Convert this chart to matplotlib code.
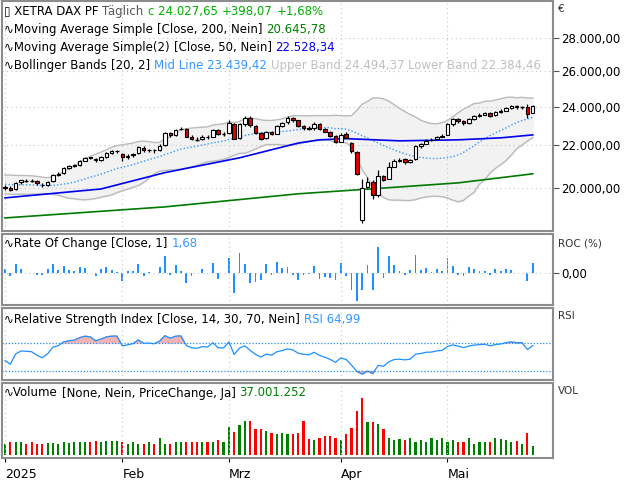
import numpy as np
import pandas as pd
import matplotlib
matplotlib.use("Agg")
import matplotlib.pyplot as plt
from matplotlib.ticker import FixedLocator, NullLocator

# ---------------- data ----------------
dates = pd.bdate_range("2025-01-02", "2025-05-26")
dates = dates[~dates.isin(pd.to_datetime(["2025-04-18", "2025-04-21", "2025-05-01"]))]

closes = [20025, 19906, 20216, 20340, 20330, 20317, 20215, 20133, 20271, 20575, 20655, 20903,
          20990, 21042, 21254, 21411, 21394, 21282, 21430, 21637, 21727, 21732,
          21428, 21505, 21585, 21902, 21787, 21800, 21777, 21982, 22612, 22514, 22798, 22845,
          22434, 22314, 22287, 22426, 22410, 22794, 22550, 22551,
          23147, 22327, 23081, 23419, 23009, 22620, 22329, 22676, 22567, 22987, 23154, 23380,
          23288, 22999, 22892, 22852, 23109, 22839, 22679, 22461, 22163,
          22540, 22390, 21717, 20642, 20000, 20280, 19670, 20563, 20374, 20955, 21254, 21311,
          21206, 21294, 21962, 22065, 22242, 22272, 22426, 22497,
          23087, 23345, 23250, 23116, 23353, 23499, 23567, 23638, 23527, 23695, 23767, 23935,
          24036, 23999, 23999, 23630, 24028]
opens = [20000, 20010, 19950, 20250, 20320, 20330, 20300, 20150, 20130, 20300, 20600, 20680,
         20920, 21000, 21060, 21270, 21420, 21360, 21300, 21450, 21650, 21750,
         21600, 21420, 21520, 21620, 21900, 21780, 21800, 21800, 22020, 22600, 22530, 22810,
         22850, 22420, 22300, 22300, 22430, 22420, 22800, 22540,
         22600, 23100, 22350, 23100, 23400, 23000, 22600, 22350, 22690, 22580, 23000, 23170,
         23390, 23280, 23000, 22900, 22860, 23100, 22850, 22690, 22460,
         22180, 22550, 22100, 21700, 18600, 20050, 20250, 19700, 20550, 20400, 20970, 21260,
         21320, 21200, 21320, 21980, 22080, 22250, 22300, 22430,
         22520, 23090, 23330, 23250, 23130, 23360, 23510, 23580, 23640, 23540, 23700, 23770,
         23940, 24040, 23990, 24000, 23640]
highs = [20120, 20100, 20280, 20380, 20400, 20400, 20350, 20220, 20320, 20620, 20720, 20950,
         21050, 21100, 21300, 21450, 21450, 21400, 21470, 21680, 21780, 21800,
         21650, 21560, 21650, 21950, 21950, 21850, 21850, 22050, 22650, 22650, 22850, 22930,
         22900, 22500, 22400, 22500, 22500, 22850, 22850, 22650,
         23300, 23150, 23150, 23480, 23480, 23050, 22650, 22750, 22750, 23050, 23200, 23480,
         23450, 23300, 23050, 23000, 23200, 23150, 22900, 22750, 22500,
         22600, 22650, 22150, 21750, 20400, 20500, 20350, 20800, 20600, 21200, 21350, 21400,
         21400, 21350, 22000, 22120, 22300, 22350, 22450, 22560,
         23150, 23400, 23400, 23300, 23400, 23550, 23650, 23700, 23700, 23750, 23850, 24000,
         24100, 24100, 24050, 24150, 24080]
lows = [19900, 19880, 19920, 20200, 20250, 20250, 20150, 20050, 20080, 20280, 20550, 20650,
        20880, 20950, 21000, 21230, 21330, 21200, 21250, 21400, 21600, 21650,
        21250, 21350, 21450, 21580, 21700, 21700, 21650, 21750, 21980, 22400, 22480, 22780,
        22400, 22250, 22200, 22250, 22300, 22400, 22500, 22450,
        22580, 22300, 22300, 23000, 22950, 22550, 22250, 22300, 22500, 22550, 22950, 23100,
        23200, 22950, 22800, 22780, 22800, 22800, 22650, 22400, 22100,
        22150, 22350, 21650, 20600, 18490, 20000, 19500, 19600, 20300, 20700, 21100, 21200,
        21100, 21150, 21300, 21900, 22050, 22200, 22300, 22400,
        22500, 23000, 23150, 23050, 23100, 23300, 23450, 23550, 23450, 23500, 23650, 23750,
        23900, 23900, 23900, 23400, 23900]
volumes = [48, 56, 56, 53, 48, 56, 45, 48, 51, 51, 48, 56, 51, 53, 53, 56, 56, 58, 56, 58, 58, 60,
           56, 48, 56, 48, 45, 56, 45, 70, 48, 45, 53, 56, 53, 53, 56, 53, 53, 56, 64, 56,
           115, 96, 125, 140, 144, 108, 108, 99, 90, 88, 93, 88, 88, 93, 144, 68, 64, 72, 80, 80, 72,
           62, 88, 112, 184, 237, 136, 136, 128, 108, 72, 64, 68, 64, 72, 56, 64, 56, 72, 64, 72,
           53, 64, 56, 56, 72, 45, 56, 56, 56, 70, 68, 62, 56, 60, 45, 90, 37]
# closes of the 19 trading days before 2 Jan (for Bollinger warm-up)
pre_closes = [20232, 20330, 20385, 20345, 20399, 20399, 20426, 20406, 20314, 20246,
              20242, 20245, 19884, 19970, 19849, 19848, 19984, 19910, 19909]
ma200_idx = [0, 30, 55, 70, 85, 99]
ma200_val = [18700, 19170, 19740, 19980, 20230, 20645]
ma50_idx = [0, 18, 30, 44, 55, 59, 64, 74, 85, 93, 99]
ma50_val = [19560, 19955, 20700, 21400, 22120, 22280, 22340, 22230, 22280, 22380, 22528]
month_idx = [0, 22, 42, 63, 83]
month_lbl = ["2025", "Feb", "Mrz", "Apr", "Mai"]
price_ticks = [20000, 22000, 24000, 26000, 28000]

n = len(closes)
closes = np.array(closes, float); opens = np.array(opens, float)
highs = np.array(highs, float); lows = np.array(lows, float)
x = np.arange(n)

allc = pd.Series(np.concatenate([pre_closes, closes]))
mid = allc.rolling(20).mean().values[19:]
sd = allc.rolling(20).std(ddof=0).values[19:]
upper, lower = mid + 2 * sd, mid - 2 * sd

prevc = np.concatenate([[pre_closes[-1]], closes[:-1]])
roc = (closes - prevc) / prevc * 100
d = np.diff(np.concatenate([pre_closes, closes]))
gain, loss = np.clip(d, 0, None), np.clip(-d, 0, None)
ag, al = gain[:14].mean(), loss[:14].mean()
rsi_all = []
for g, l in zip(gain[14:], loss[14:]):
    ag = (ag * 13 + g) / 14; al = (al * 13 + l) / 14
    rsi_all.append(100 - 100 / (1 + ag / al))
rsi = np.array(rsi_all)[-n:]

# ---------------- figure ----------------
W, H = 640, 480
fig = plt.figure(figsize=(6.4, 4.8), dpi=100)
plt.rcParams["font.family"] = "DejaVu Sans"
def ax_at(top, bottom):
    return fig.add_axes([2 / W, 1 - bottom / H, 551 / W, (bottom - top) / H])
axm = ax_at(1, 231); axr = ax_at(234, 305); axs = ax_at(308, 380); axv = ax_at(383, 458)
xl = (-0.56, 102.8)
for a in (axm, axr, axs, axv):
    a.set_xlim(*xl)
    for s in a.spines.values():
        s.set_color("#8c8c8c"); s.set_linewidth(1.5)
    a.xaxis.set_major_locator(FixedLocator(month_idx))
    a.tick_params(axis="x", length=0, labelbottom=False)
    a.grid(True, color="#c8c8c8", linestyle=(0, (1, 3)), linewidth=0.8)
    a.yaxis.tick_right()
    a.tick_params(axis="y", length=4, labelsize=8.5, color="#555555", pad=2)

# main
axm.set_yscale("log")
axm.set_ylim(18160, 30420)
axm.yaxis.set_major_locator(FixedLocator(price_ticks))
axm.yaxis.set_minor_locator(NullLocator())
axm.set_yticklabels([f"{v:,.2f}".replace(",", "X").replace(".", ",").replace("X", ".") for v in price_ticks])
axm.fill_between(x, lower, upper, color="#f2f2f2", zorder=1)
axm.plot(x, upper, color="#bbbbbb", lw=1, zorder=2)
axm.plot(x, lower, color="#bbbbbb", lw=1, zorder=2)
axm.plot(x, mid, color="#3399ff", lw=1, ls=(0, (1, 1.5)), zorder=2)
axm.plot(ma200_idx, ma200_val, color="#007a00", lw=1.2, zorder=3)
axm.plot(ma50_idx, ma50_val, color="#0000ee", lw=1.2, zorder=3)
for i in range(n):
    axm.vlines(i, lows[i], highs[i], color="black", lw=0.9, zorder=4)
    up = closes[i] >= opens[i]
    b0, b1 = min(opens[i], closes[i]), max(opens[i], closes[i])
    if b1 - b0 < 15:
        axm.hlines(closes[i], i - 0.35, i + 0.35, color="black", lw=1, zorder=5)
    else:
        axm.bar(i, b1 - b0, bottom=b0, width=0.65, color="white" if up else "#e00000",
                edgecolor="black", lw=0.8, zorder=5)

# ROC
axr.set_ylim(-5.7, 6.8)
axr.yaxis.set_major_locator(FixedLocator([0]))
axr.set_yticklabels(["0,00"])
axr.bar(x, roc, width=0.35, color="#1e90ff")

# RSI
axs.set_ylim(17, 120)
axs.yaxis.set_major_locator(NullLocator())
axs.axhline(70, color="#1e90ff", lw=0.9, ls=(0, (1, 1.5)))
axs.axhline(30, color="#1e90ff", lw=0.9, ls=(0, (1, 1.5)))
axs.fill_between(x, 70, rsi, where=rsi > 70, interpolate=True, color="#f4b4b4")
axs.fill_between(x, 30, rsi, where=rsi < 30, interpolate=True, color="#f4b4b4")
axs.plot(x, rsi, color="#1e90ff", lw=0.9)

# Volume
axv.set_ylim(-12, 300)
axv.yaxis.set_major_locator(NullLocator())
vcol = ["#008000" if c >= p else "#ff0000" for c, p in zip(closes, prevc)]
axv.bar(x, volumes, width=0.4, color=vcol)
axv.tick_params(axis="x", labelbottom=True, labelsize=9, length=3, pad=4)
axv.set_xticklabels(month_lbl)
for lab in axv.get_xticklabels():
    lab.set_horizontalalignment("left")

# headers
fig.canvas.draw()
rend = fig.canvas.get_renderer()
def line(ypx, parts, fs=8.5):
    xp = 4
    for txt, col in parts:
        t = fig.text(xp / W, 1 - ypx / H, txt, color=col, fontsize=fs, va="center", ha="left")
        xp = t.get_window_extent(rend).x1 + 4
line(11, [("▯ XETRA DAX PF", "black"), ("Täglich", "#555555"), ("c 24.027,65", "#00b000"),
          ("+398,07", "#00b000"), ("+1,68%", "#00b000")])
line(30, [("∿Moving Average Simple", "black"), ("[Close, 200, Nein]", "black"), ("20.645,78", "#008000")])
line(48, [("∿Moving Average Simple(2)", "black"), ("[Close, 50, Nein]", "black"), ("22.528,34", "#0000ee")])
line(66, [("∿Bollinger Bands", "black"), ("[20, 2]", "black"), ("Mid Line 23.439,42", "#3399ff"),
          ("Upper Band 24.494,37", "#c0c0c0"), ("Lower Band 22.384,46", "#c0c0c0")])
line(244, [("∿Rate Of Change", "black"), ("[Close, 1]", "black"), ("1,68", "#3399ff")])
line(319, [("∿Relative Strength Index", "black"), ("[Close, 14, 30, 70, Nein]", "black"), ("RSI 64,99", "#3399ff")])
line(393, [("∿Volume", "black"), ("[None, Nein, PriceChange, Ja]", "black"), ("37.001.252", "#008000")])
for ypx, t in [(9, "€"), (243, "ROC (%)"), (316, "RSI"), (391, "VOL")]:
    fig.text(558 / W, 1 - ypx / H, t, fontsize=7.5, va="center", ha="left", color="#333333")

fig.savefig("out.png", dpi=100, facecolor="white")
